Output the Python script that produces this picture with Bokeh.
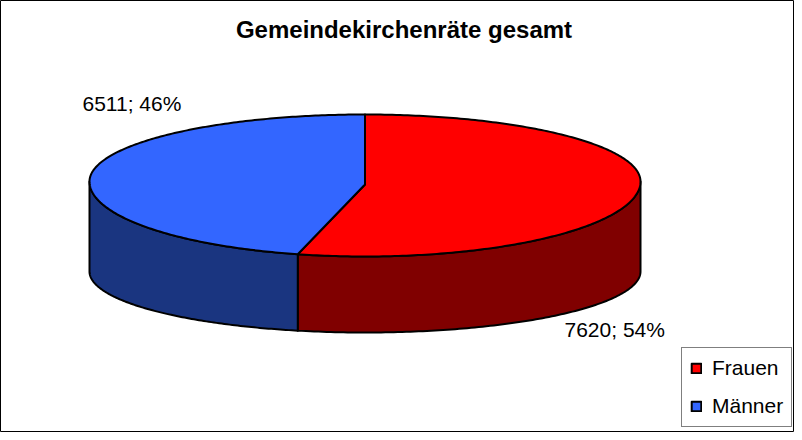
import numpy as np
from bokeh.plotting import figure
from bokeh.models import Range1d, Legend, LegendItem
from bokeh.core.properties import value
from bokeh.embed import file_html
from bokeh.resources import INLINE

# ---- data ----
title_text = ["Gemeindekirchenräte gesamt"]
categories = ["Frauen", "Männer"]
counts = [7620, 6511]
top_colors = ["#FF0000", "#3366FF"]
side_colors = ["#800000", "#1A3580"]

# ---- figure ----
W, H = 794, 432
p = figure(width=W, height=H, x_range=Range1d(0, W), y_range=Range1d(H, 0),
           output_backend="svg", toolbar_location=None, min_border=0,
           x_axis_type=None, y_axis_type=None)
p.grid.visible = False
p.outline_line_color = "black"
p.outline_line_width = 1
p.background_fill_color = "white"
p.border_fill_color = "white"

# ---- 3D pie geometry (screen-like units) ----
cx, cy = 364.5, 181.0
apex_dy = 3.0
rx = 275.5
ry_back, ry_front = 67.0, 75.0
cy_base, ry_base = 271.0, 61.0


def top_y(t):
    c = np.cos(t)
    r = np.where(c > 0, ry_back, ry_front)
    return cy - r * c


def base_y(t):
    return cy_base - ry_base * np.cos(t)


total = float(sum(counts))
fracs = [c / total for c in counts]
starts = np.concatenate([[0.0], np.cumsum(fracs)[:-1]]) * 2 * np.pi
ends = np.cumsum(fracs) * 2 * np.pi

# side walls first
for i in range(len(categories)):
    a0 = max(starts[i], np.pi / 2)
    a1 = min(ends[i], 3 * np.pi / 2)
    if a1 <= a0:
        continue
    t = np.linspace(a0, a1, 120)
    xs_top = cx + rx * np.sin(t)
    ys_top = top_y(t)
    xs_bot = xs_top[::-1]
    ys_bot = base_y(t)[::-1]
    p.patch(list(xs_top) + list(xs_bot), list(ys_top) + list(ys_bot),
            fill_color=side_colors[i], line_color="black", line_width=2,
            line_join="round")

# top faces
top_renderers = []
for i in range(len(categories)):
    t = np.linspace(starts[i], ends[i], 240)
    xs = [cx] + list(cx + rx * np.sin(t))
    ys = [cy + apex_dy] + list(top_y(t))
    r = p.patch(xs, ys, fill_color=top_colors[i], line_color="black",
                line_width=2, line_join="round")
    top_renderers.append(r)

# data labels
label_texts = [f"{c}; {round(f * 100)}%" for c, f in zip(counts, fracs)]
label_x = [564, 82]
label_y = [329, 102.5]
p.text(x=label_x, y=label_y, text=label_texts,
       text_font=value("Liberation Sans"), text_font_size="21px",
       text_color="black", text_align="left", text_baseline="middle")

# title
p.text(x=[403.5], y=[29], text=title_text,
       text_font=value("Liberation Sans"), text_font_style="bold",
       text_font_size="24px", text_color="black",
       text_align="center", text_baseline="middle")

# legend
legend = Legend(
    items=[LegendItem(label=c, renderers=[r]) for c, r in zip(categories, top_renderers)],
    location=(681, 5), orientation="vertical",
    label_text_font="Liberation Sans", label_text_font_size="21px",
    label_text_color="black",
    label_height=24, glyph_width=12, glyph_height=12,
    label_standoff=10, padding=8, spacing=14, margin=0,
    border_line_color="black", border_line_width=1,
    background_fill_color="white", background_fill_alpha=1.0,
)
p.add_layout(legend)

open("out.html", "w").write(file_html(p, INLINE))
